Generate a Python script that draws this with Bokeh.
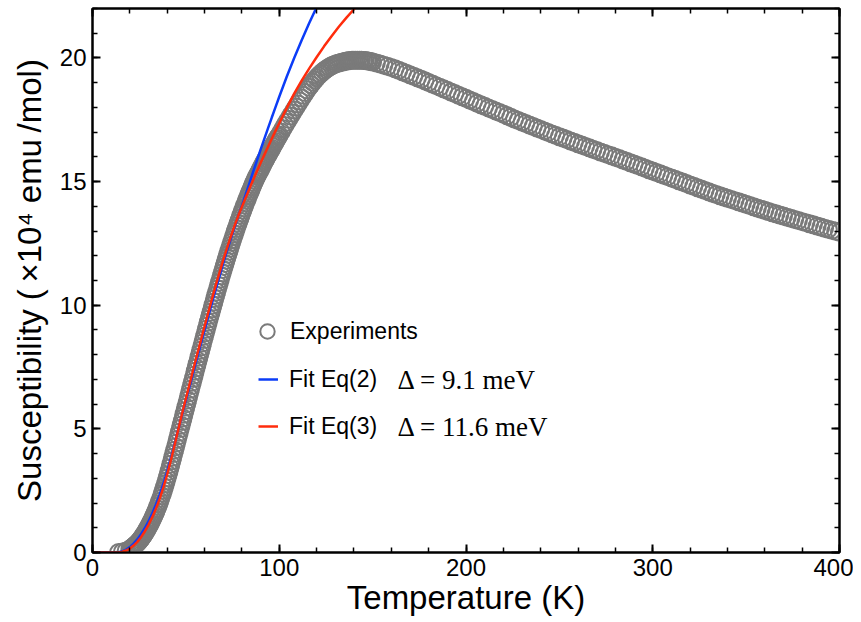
from bokeh.plotting import figure
from bokeh.models import Range1d, LinearAxis, SingleIntervalTicker, Legend, LegendItem, Label
from bokeh.embed import file_html
from bokeh.resources import INLINE

# ---------------- data ----------------
# experiment, low-temperature onset
exp_T_a = [14, 16, 18]
exp_chi_a = [0.00, 0.02, 0.06]
# experiment, steep rise (dense sampling)
exp_T_b = [20, 20.5, 21, 21.5, 22, 22.5, 23, 23.5, 24, 24.5, 25, 25.5, 26, 26.5, 27, 27.5,
           28, 28.5, 29, 29.5, 30, 30.5, 31, 31.5, 32, 32.5, 33, 33.5, 34, 34.5, 35, 35.5,
           36, 36.5, 37, 37.5, 38, 38.5, 39, 39.5, 40, 40.5, 41, 41.5, 42, 42.5, 43, 43.5,
           44, 44.5, 45, 45.5, 46, 46.5, 47, 47.5, 48, 48.5, 49, 49.5, 50, 50.5, 51, 51.5,
           52, 52.5, 53, 53.5, 54, 54.5, 55, 55.5, 56, 56.5, 57, 57.5, 58, 58.5, 59, 59.5,
           60, 60.5, 61, 61.5, 62, 62.5, 63, 63.5, 64, 64.5, 65, 65.5, 66, 66.5, 67, 67.5,
           68, 68.5, 69, 69.5, 70, 70.5, 71, 71.5, 72, 72.5, 73, 73.5, 74, 74.5, 75, 75.5,
           76, 76.5, 77, 77.5, 78, 78.5, 79, 79.5, 80, 80.5, 81, 81.5, 82, 82.5, 83, 83.5,
           84, 84.5, 85, 85.5, 86, 86.5, 87, 87.5, 88, 88.5, 89, 89.5, 90, 90.5, 91, 91.5,
           92, 92.5, 93, 93.5, 94, 94.5, 95, 95.5, 96, 96.5, 97, 97.5, 98, 98.5, 99, 99.5, 100]
exp_chi_b = [0.13, 0.15, 0.18, 0.21, 0.24, 0.27, 0.31, 0.34, 0.38, 0.42, 0.46, 0.51, 0.56, 0.61, 0.67, 0.72,
             0.78, 0.84, 0.91, 0.97, 1.04, 1.11, 1.19, 1.26, 1.34, 1.42, 1.51, 1.59, 1.68, 1.77, 1.87, 1.97,
             2.07, 2.18, 2.29, 2.40, 2.52, 2.64, 2.77, 2.89, 3.02, 3.15, 3.29, 3.43, 3.57, 3.71, 3.85, 4.00,
             4.14, 4.28, 4.43, 4.57, 4.72, 4.86, 5.01, 5.15, 5.30, 5.44, 5.59, 5.73, 5.88, 6.02, 6.17, 6.31,
             6.46, 6.60, 6.75, 6.89, 7.04, 7.18, 7.33, 7.47, 7.61, 7.75, 7.90, 8.04, 8.18, 8.32, 8.47, 8.61,
             8.75, 8.89, 9.03, 9.17, 9.31, 9.45, 9.59, 9.72, 9.86, 10.00, 10.13, 10.27, 10.40, 10.53, 10.67, 10.80,
             10.93, 11.06, 11.19, 11.31, 11.44, 11.57, 11.69, 11.82, 11.94, 12.06, 12.18, 12.30, 12.42, 12.54, 12.65, 12.77,
             12.88, 12.99, 13.10, 13.21, 13.32, 13.43, 13.53, 13.64, 13.74, 13.84, 13.94, 14.04, 14.14, 14.24, 14.33, 14.43,
             14.52, 14.61, 14.70, 14.79, 14.88, 14.97, 15.05, 15.14, 15.22, 15.29, 15.36, 15.43, 15.50, 15.58, 15.65, 15.73,
             15.80, 15.87, 15.94, 16.01, 16.08, 16.15, 16.22, 16.28, 16.35, 16.42, 16.49, 16.55, 16.62, 16.69, 16.75, 16.82, 16.88]
# experiment, around the maximum
exp_T_c = [101, 102, 103, 104, 105, 106, 107, 108, 109, 110, 111, 112, 113, 114, 115, 116, 117, 118, 119, 120,
           121, 122, 123, 124, 125, 126, 127, 128, 129, 130, 131, 132, 133, 134, 135, 136, 137, 138, 139, 140,
           141, 142, 143, 144, 145, 146, 147, 148, 149]
exp_chi_c = [17.01, 17.14, 17.27, 17.40, 17.52, 17.65, 17.77, 17.90, 18.02, 18.14, 18.26, 18.38, 18.49, 18.60, 18.71, 18.82, 18.92, 19.02, 19.11, 19.20,
             19.28, 19.35, 19.42, 19.48, 19.54, 19.59, 19.64, 19.68, 19.72, 19.75, 19.78, 19.80, 19.82, 19.84, 19.86, 19.88, 19.89, 19.90, 19.91, 19.91,
             19.91, 19.91, 19.91, 19.91, 19.90, 19.90, 19.89, 19.87, 19.86]
# experiment, high-temperature decrease
exp_T_d = [150, 152, 154, 156, 158, 160, 162, 164, 166, 168, 170, 172, 174, 176, 178, 180, 182, 184, 186, 188,
           190, 192, 194, 196, 198, 200, 202, 204, 206, 208, 210, 212, 214, 216, 218, 220, 222, 224, 226, 228,
           230, 232, 234, 236, 238, 240, 242, 244, 246, 248, 250, 252, 254, 256, 258, 260, 262, 264, 266, 268,
           270, 272, 274, 276, 278, 280, 282, 284, 286, 288, 290, 292, 294, 296, 298, 300, 302, 304, 306, 308,
           310, 312, 314, 316, 318, 320, 322, 324, 326, 328, 330, 332, 334, 336, 338, 340, 342, 344, 346, 348,
           350, 352, 354, 356, 358, 360, 362, 364, 366, 368, 370, 372, 374, 376, 378, 380, 382, 384, 386, 388,
           390, 392, 394, 396, 398, 400]
exp_chi_d = [19.84, 19.80, 19.76, 19.71, 19.66, 19.61, 19.56, 19.50, 19.44, 19.38, 19.32, 19.26, 19.20, 19.14, 19.08, 19.01, 18.95, 18.88, 18.82, 18.75,
             18.69, 18.62, 18.56, 18.49, 18.43, 18.37, 18.30, 18.24, 18.17, 18.11, 18.05, 17.98, 17.92, 17.85, 17.79, 17.73, 17.66, 17.60, 17.53, 17.47,
             17.41, 17.35, 17.29, 17.23, 17.17, 17.11, 17.05, 16.99, 16.93, 16.87, 16.81, 16.76, 16.70, 16.64, 16.59, 16.53, 16.48, 16.42, 16.37, 16.31,
             16.26, 16.20, 16.15, 16.09, 16.04, 15.98, 15.93, 15.87, 15.82, 15.76, 15.71, 15.65, 15.60, 15.54, 15.48, 15.43, 15.37, 15.32, 15.26, 15.20,
             15.15, 15.09, 15.03, 14.98, 14.92, 14.86, 14.81, 14.75, 14.70, 14.64, 14.59, 14.53, 14.48, 14.43, 14.38, 14.33, 14.28, 14.23, 14.18, 14.13,
             14.08, 14.03, 13.98, 13.93, 13.88, 13.84, 13.79, 13.74, 13.70, 13.65, 13.61, 13.56, 13.52, 13.47, 13.43, 13.38, 13.34, 13.29, 13.25, 13.20,
             13.16, 13.11, 13.07, 13.03, 12.99, 12.95]

fit2_T = [0, 6, 10, 12, 14, 16, 18, 20, 22, 24, 26, 28, 30, 32, 34, 36, 38, 40, 42, 44,
          46, 48, 50, 52, 54, 56, 58, 60, 62, 64, 66, 68, 70, 72, 74, 76, 78, 80, 82, 84,
          86, 88, 90, 92, 94, 96, 98, 100, 104, 108, 112, 116, 120, 124]
fit2_chi = [0, 0, 0, 0.002, 0.01, 0.05, 0.12, 0.22, 0.36, 0.53, 0.74, 0.98, 1.26, 1.58, 1.94, 2.34, 2.79, 3.28, 3.82, 4.40,
            5.00, 5.58, 6.15, 6.72, 7.29, 7.86, 8.43, 8.99, 9.55, 10.10, 10.64, 11.17, 11.69, 12.20, 12.68, 13.14, 13.58, 14.02, 14.47, 14.93,
            15.39, 15.84, 16.29, 16.73, 17.16, 17.59, 18.01, 18.43, 19.24, 20.00, 20.72, 21.40, 22.05, 22.68]

fit3_T = [0, 6, 10, 12, 14, 16, 18, 20, 22, 24, 26, 28, 30, 32, 34, 36, 38, 40, 42, 44,
          46, 48, 50, 52, 54, 56, 58, 60, 62, 64, 66, 68, 70, 72, 74, 76, 78, 80, 82, 84,
          86, 88, 90, 92, 94, 96, 98, 100, 104, 108, 112, 116, 120, 124, 128, 132, 136, 140, 144]
fit3_chi = [0, 0, 0, 0, 0.0, 0.03, 0.08, 0.16, 0.28, 0.43, 0.62, 0.85, 1.12, 1.43, 1.78, 2.18, 2.64, 3.16, 3.74, 4.36,
            5.00, 5.62, 6.22, 6.82, 7.41, 7.99, 8.57, 9.14, 9.70, 10.26, 10.80, 11.32, 11.82, 12.30, 12.76, 13.20, 13.60, 13.98, 14.35, 14.71,
            15.06, 15.41, 15.75, 16.08, 16.41, 16.73, 17.05, 17.36, 17.97, 18.56, 19.08, 19.57, 20.03, 20.47, 20.88, 21.27, 21.63, 21.97, 22.30]

x_major = [0, 100, 200, 300, 400]
y_major = [0, 5, 10, 15, 20]
labels = ["Experiments", "Fit Eq(2)", "Fit Eq(3)"]
gap_labels = ["Δ  =  9.1  meV", "Δ  =  11.6  meV"]

exp_T = exp_T_a + exp_T_b + exp_T_c + exp_T_d
exp_chi = exp_chi_a + exp_chi_b + exp_chi_c + exp_chi_d

FONT = "Liberation Sans"

p = figure(frame_width=747, frame_height=544,
           x_range=Range1d(0, 400), y_range=Range1d(0, 22),
           output_backend="svg", toolbar_location=None,
           min_border_left=92, min_border_right=14, min_border_top=8, min_border_bottom=60,
           x_axis_label="Temperature (K)",
           y_axis_label="Susceptibility (\u2009×10⁴ emu\u2009/mol)")
p.grid.visible = False
p.outline_line_color = "black"
p.outline_line_width = 2
p.background_fill_color = "white"

xb = p.below[0]
yl = p.left[0]
xt = SingleIntervalTicker(interval=100, num_minor_ticks=5)
yt = SingleIntervalTicker(interval=5, num_minor_ticks=5)
xb.ticker = xt
yl.ticker = yt

top = LinearAxis(ticker=xt, major_label_overrides={v: "" for v in x_major})
right = LinearAxis(ticker=yt, major_label_overrides={v: "" for v in y_major})
p.add_layout(top, "above")
p.add_layout(right, "right")

for ax in [xb, yl, top, right]:
    ax.axis_line_width = 2
    ax.axis_line_color = "black"
    ax.major_tick_in = 8
    ax.major_tick_out = 0
    ax.minor_tick_in = 5
    ax.minor_tick_out = 0
    ax.major_tick_line_width = 2
    ax.minor_tick_line_width = 1.5
    ax.major_tick_line_color = "black"
    ax.minor_tick_line_color = "black"
    ax.major_label_text_font = FONT
    ax.major_label_text_font_size = "24px"
    ax.major_label_text_color = "black"
    ax.axis_label_text_font = FONT
    ax.axis_label_text_font_style = "normal"
    ax.axis_label_text_color = "black"

for ax in [top, right]:
    ax.major_label_text_font_size = "1px"
    ax.major_label_standoff = 0

xb.axis_label_text_font_size = "33px"
yl.axis_label_text_font_size = "33px"
xb.major_label_standoff = 6
xb.axis_label_standoff = 0
yl.major_label_standoff = 6
yl.axis_label_standoff = 9

r_exp = p.scatter(exp_T, exp_chi, marker="circle", size=17, fill_color=None,
                  line_color="#7a7a7a", line_width=2)
r2 = p.line(fit2_T, fit2_chi, line_color="#0b3cf7", line_width=2.5)
r3 = p.line(fit3_T, fit3_chi, line_color="#ff2c0c", line_width=2.5)

leg1 = Legend(items=[LegendItem(label=labels[0], renderers=[r_exp])],
              location=(157, 203), glyph_width=36, glyph_height=36, label_height=36,
              label_standoff=5, padding=0, margin=0,
              background_fill_alpha=0, border_line_alpha=0,
              label_text_font=FONT, label_text_font_size="23px", label_text_color="black")
leg2 = Legend(items=[LegendItem(label=labels[1], renderers=[r2]),
                     LegendItem(label=labels[2], renderers=[r3])],
              location=(166, 111), glyph_width=20, glyph_height=30, label_height=30,
              spacing=17, label_standoff=11, padding=0, margin=0,
              background_fill_alpha=0, border_line_alpha=0,
              label_text_font=FONT, label_text_font_size="23px", label_text_color="black")
p.add_layout(leg1)
p.add_layout(leg2)

for txt, yy in zip(gap_labels, [172.7, 126.0]):
    p.add_layout(Label(x=305, y=yy, x_units="screen", y_units="screen", text=txt,
                       text_font="Liberation Serif", text_font_size="27px",
                       text_baseline="middle", text_color="black"))

open("out.html", "w").write(file_html(p, INLINE))
